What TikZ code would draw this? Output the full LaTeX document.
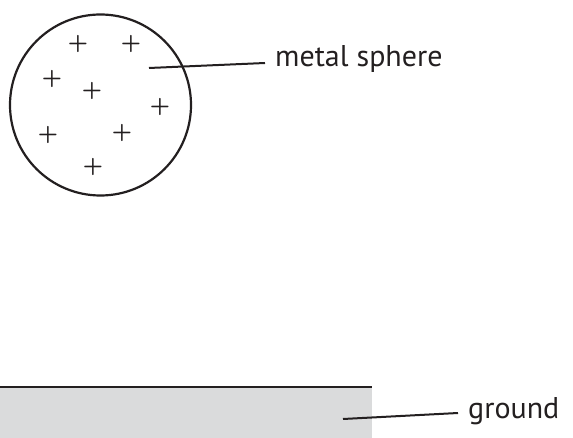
\documentclass[tikz,border=0pt]{standalone}
\usepackage{fontspec}
\setmainfont{PT Sans}
\definecolor{groundgray}{HTML}{DADBDC}
\definecolor{ink}{HTML}{231F20}
\begin{document}
\begin{tikzpicture}[x=1pt,y=-1pt,
  lead/.style={line width=2pt,draw=ink},
  lbl/.style={anchor=base west,inner sep=0pt,text=ink,font=\fontsize{30}{30}\selectfont},
  charge/.style={inner sep=0pt,text=ink,font=\fontfamily{lmr}\bfseries\fontsize{26}{26}\selectfont}]
\useasboundingbox (0,0) rectangle (573,438);
\fill[groundgray] (0,387) rectangle (372,438);
\draw[line width=2.4pt,draw=ink] (0,387) -- (372,387);
\draw[line width=2.2pt,draw=ink] (100.5,105) circle (90.5);
\node[charge] (p1) at (78,44) {+};
\node[charge] (p2) at (131,44) {+};
\node[charge] (p3) at (52,79) {+};
\node[charge] (p4) at (92,91) {+};
\node[charge] (p5) at (160,107) {+};
\node[charge] (p6) at (48,135) {+};
\node[charge] (p7) at (122,133) {+};
\node[charge] (p8) at (93,167) {+};
\coordinate (s) at (149,68);
\coordinate (se) at (265,63);
\node[lbl] (ms) at (275,67) {metal sphere};
\draw[lead] (s) -- (se);
\coordinate (g) at (343,419);
\coordinate (ge) at (458,413);
\node[lbl] (gr) at (468,418) {ground};
\draw[lead] (g) -- (ge);
\end{tikzpicture}
\end{document}
